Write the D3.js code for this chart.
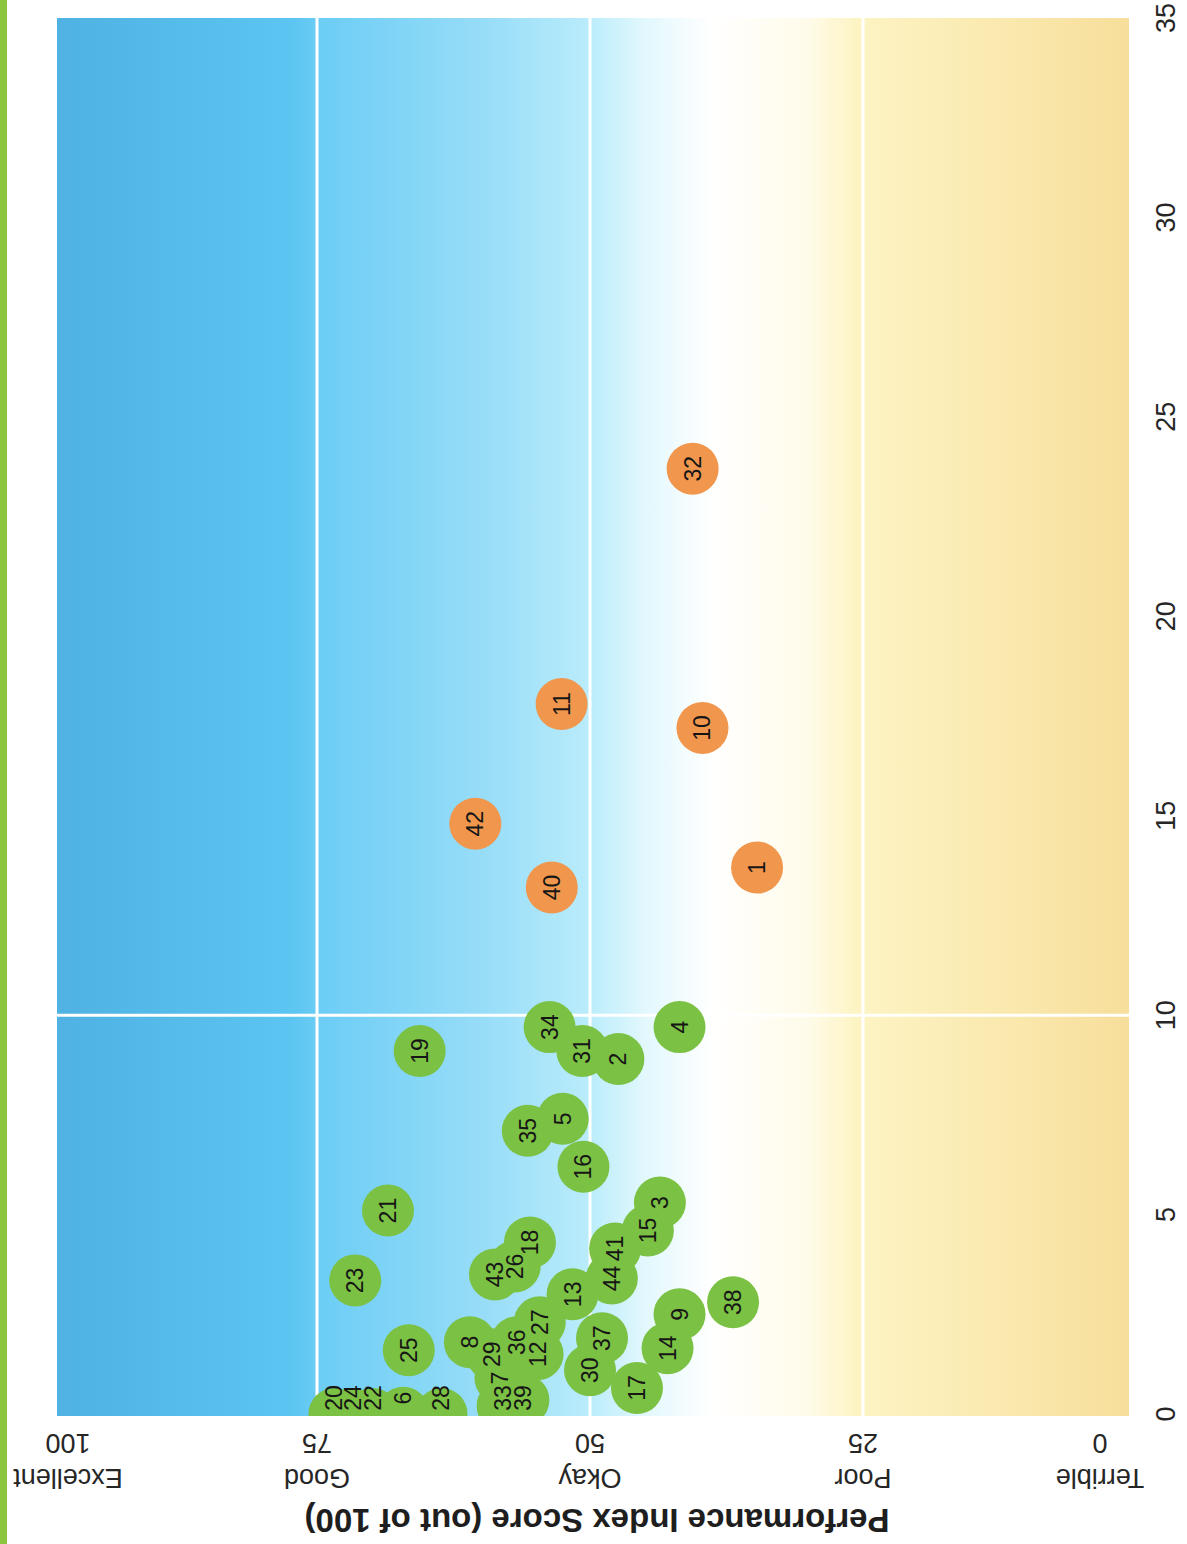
<!DOCTYPE html>
<html>
<head>
<meta charset="utf-8">
<script src="https://cdn.jsdelivr.net/npm/d3@7"></script>
<style>
  html, body { margin: 0; padding: 0; background: #ffffff; }
  svg { display: block; }
</style>
</head>
<body>
<div id="chart"></div>
<script>
// ---------------- DATA ----------------
const pointIds   = [1, 2, 3, 4, 5, 6, 7, 8, 9, 10, 11, 12, 13, 14, 15, 16, 17, 18, 19, 20, 21, 22,
                    23, 24, 25, 26, 27, 28, 29, 30, 31, 32, 33, 34, 35, 36, 37, 38, 39, 40, 41, 42, 43, 44];
const xValues    = [13.7, 8.9, 5.3, 9.7, 7.4, 0.03, 0.9, 1.8, 2.5, 17.2, 17.8, 1.5, 3.0, 1.65, 4.6, 6.2, 0.65, 4.3, 9.1, 0.0, 5.1, 0.0,
                    3.35, 0.0, 1.6, 3.7, 2.3, 0.0, 1.5, 1.1, 9.1, 23.7, 0.2, 9.7, 7.1, 1.8, 1.9, 2.8, 0.35, 13.2, 4.15, 14.8, 3.5, 3.4];
const scores     = [34.7, 47.4, 43.6, 41.8, 52.5, 67.1, 58.2, 61.0, 41.8, 39.7, 52.6, 54.8, 51.6, 42.9, 44.7, 50.6, 45.7, 55.5, 65.6, 73.4, 68.5, 69.9,
                    71.5, 71.7, 66.6, 56.9, 54.6, 63.6, 59.0, 50.0, 50.7, 40.6, 58.0, 53.7, 55.7, 56.7, 48.9, 36.9, 56.1, 53.5, 47.7, 60.5, 58.7, 48.0];
const orangeIds  = [1, 10, 11, 32, 40, 42];

const scoreTicks  = [0, 25, 50, 75, 100];
const scoreNames  = ["Terrible", "Poor", "Okay", "Good", "Excellent"];
const xTicks      = [0, 5, 10, 15, 20, 25, 30, 35];
const xGridValues = [10];
const scoreGridValues = [25, 50, 75];
const axisTitle   = "Performance Index Score (out of 100)";

// ---------------- LAYOUT ----------------
const W = 1187, H = 1544;
const plot = { left: 57, right: 1129, top: 18, bottom: 1416 };
const R = 26;
const GREEN = "#7bc143", ORANGE = "#f1964d";

const svg = d3.select("#chart").append("svg")
  .attr("width", W).attr("height", H)
  .style("font-family", "'Liberation Sans', Arial, sans-serif");

svg.append("rect").attr("width", W).attr("height", H).attr("fill", "#ffffff");
// green page edge
svg.append("rect").attr("x", 0).attr("y", 0).attr("width", 7).attr("height", H).attr("fill", "#8cc63f");

// scales (chart drawn rotated: score runs right-to-left, x runs bottom-to-top)
const sx = d3.scaleLinear().domain([0, 100]).range([1136, 44]);
const sy = d3.scaleLinear().domain([0, 35]).range([1414, 18]);

// background gradient
const defs = svg.append("defs");
const grad = defs.append("linearGradient").attr("id", "bg")
  .attr("gradientUnits", "userSpaceOnUse")
  .attr("x1", plot.left).attr("x2", plot.right).attr("y1", 0).attr("y2", 0);
[
  [0.00, "#4fb2e2"], [0.22, "#5cc5f1"], [0.245, "#6ccdf5"], [0.40, "#98ddf8"],
  [0.495, "#b9ecfb"], [0.55, "#e3f8fd"], [0.61, "#ffffff"], [0.70, "#fffbea"],
  [0.745, "#fdf4c4"], [0.88, "#fae9af"], [1.00, "#f7de9b"]
].forEach(([o, c]) => grad.append("stop").attr("offset", o).attr("stop-color", c));

defs.append("clipPath").attr("id", "plotclip").append("rect")
  .attr("x", plot.left).attr("y", plot.top)
  .attr("width", plot.right - plot.left).attr("height", plot.bottom - plot.top);

svg.append("rect")
  .attr("x", plot.left).attr("y", plot.top)
  .attr("width", plot.right - plot.left).attr("height", plot.bottom - plot.top)
  .attr("fill", "url(#bg)");

// gridlines
svg.append("g").selectAll("line").data(scoreGridValues).join("line")
  .attr("x1", d => sx(d)).attr("x2", d => sx(d))
  .attr("y1", plot.top).attr("y2", plot.bottom)
  .attr("stroke", "#ffffff").attr("stroke-width", 3);
svg.append("g").selectAll("line").data(xGridValues).join("line")
  .attr("y1", d => sy(d)).attr("y2", d => sy(d))
  .attr("x1", plot.left).attr("x2", plot.right)
  .attr("stroke", "#ffffff").attr("stroke-width", 3);

// points
const points = pointIds.map((id, i) => ({ id, x: xValues[i], s: scores[i], orange: orangeIds.includes(id) }));

const gPts = svg.append("g").attr("clip-path", "url(#plotclip)");
gPts.selectAll("circle").data(points).join("circle")
  .attr("cx", d => sx(d.s)).attr("cy", d => sy(d.x)).attr("r", R)
  .attr("fill", d => d.orange ? ORANGE : GREEN);

const labelMaxY = sy(0) - 16;
svg.append("g").selectAll("text").data(points).join("text")
  .attr("transform", d => `translate(${sx(d.s)},${Math.min(sy(d.x), labelMaxY)}) rotate(-90)`)
  .attr("text-anchor", "middle").attr("dominant-baseline", "central")
  .attr("font-size", 23).attr("fill", "#161616")
  .text(d => d.id);

// score axis labels (upside down)
const clampX = v => Math.max(68, Math.min(1100, sx(v)));
const gS = svg.append("g").attr("fill", "#262626").attr("font-size", 27);
gS.selectAll("text.num").data(scoreTicks).join("text").attr("class", "num")
  .attr("transform", d => `translate(${clampX(d)},1443) rotate(180)`)
  .attr("text-anchor", "middle").attr("dominant-baseline", "central")
  .text(d => d);
gS.selectAll("text.name").data(scoreTicks).join("text").attr("class", "name")
  .attr("transform", d => `translate(${clampX(d)},1478) rotate(180)`)
  .attr("text-anchor", "middle").attr("dominant-baseline", "central")
  .text((d, i) => scoreNames[i]);

// x axis labels (rotated)
svg.append("g").attr("fill", "#262626").attr("font-size", 27)
  .selectAll("text").data(xTicks).join("text")
  .attr("transform", d => `translate(1166,${sy(d)}) rotate(-90)`)
  .attr("text-anchor", "middle").attr("dominant-baseline", "central")
  .text(d => d);

// axis title
svg.append("text")
  .attr("transform", "translate(597,1520) rotate(180)")
  .attr("text-anchor", "middle").attr("dominant-baseline", "central")
  .attr("font-size", 33).attr("font-weight", "bold").attr("fill", "#1e1e1e")
  .text(axisTitle);
</script>
</body>
</html>
